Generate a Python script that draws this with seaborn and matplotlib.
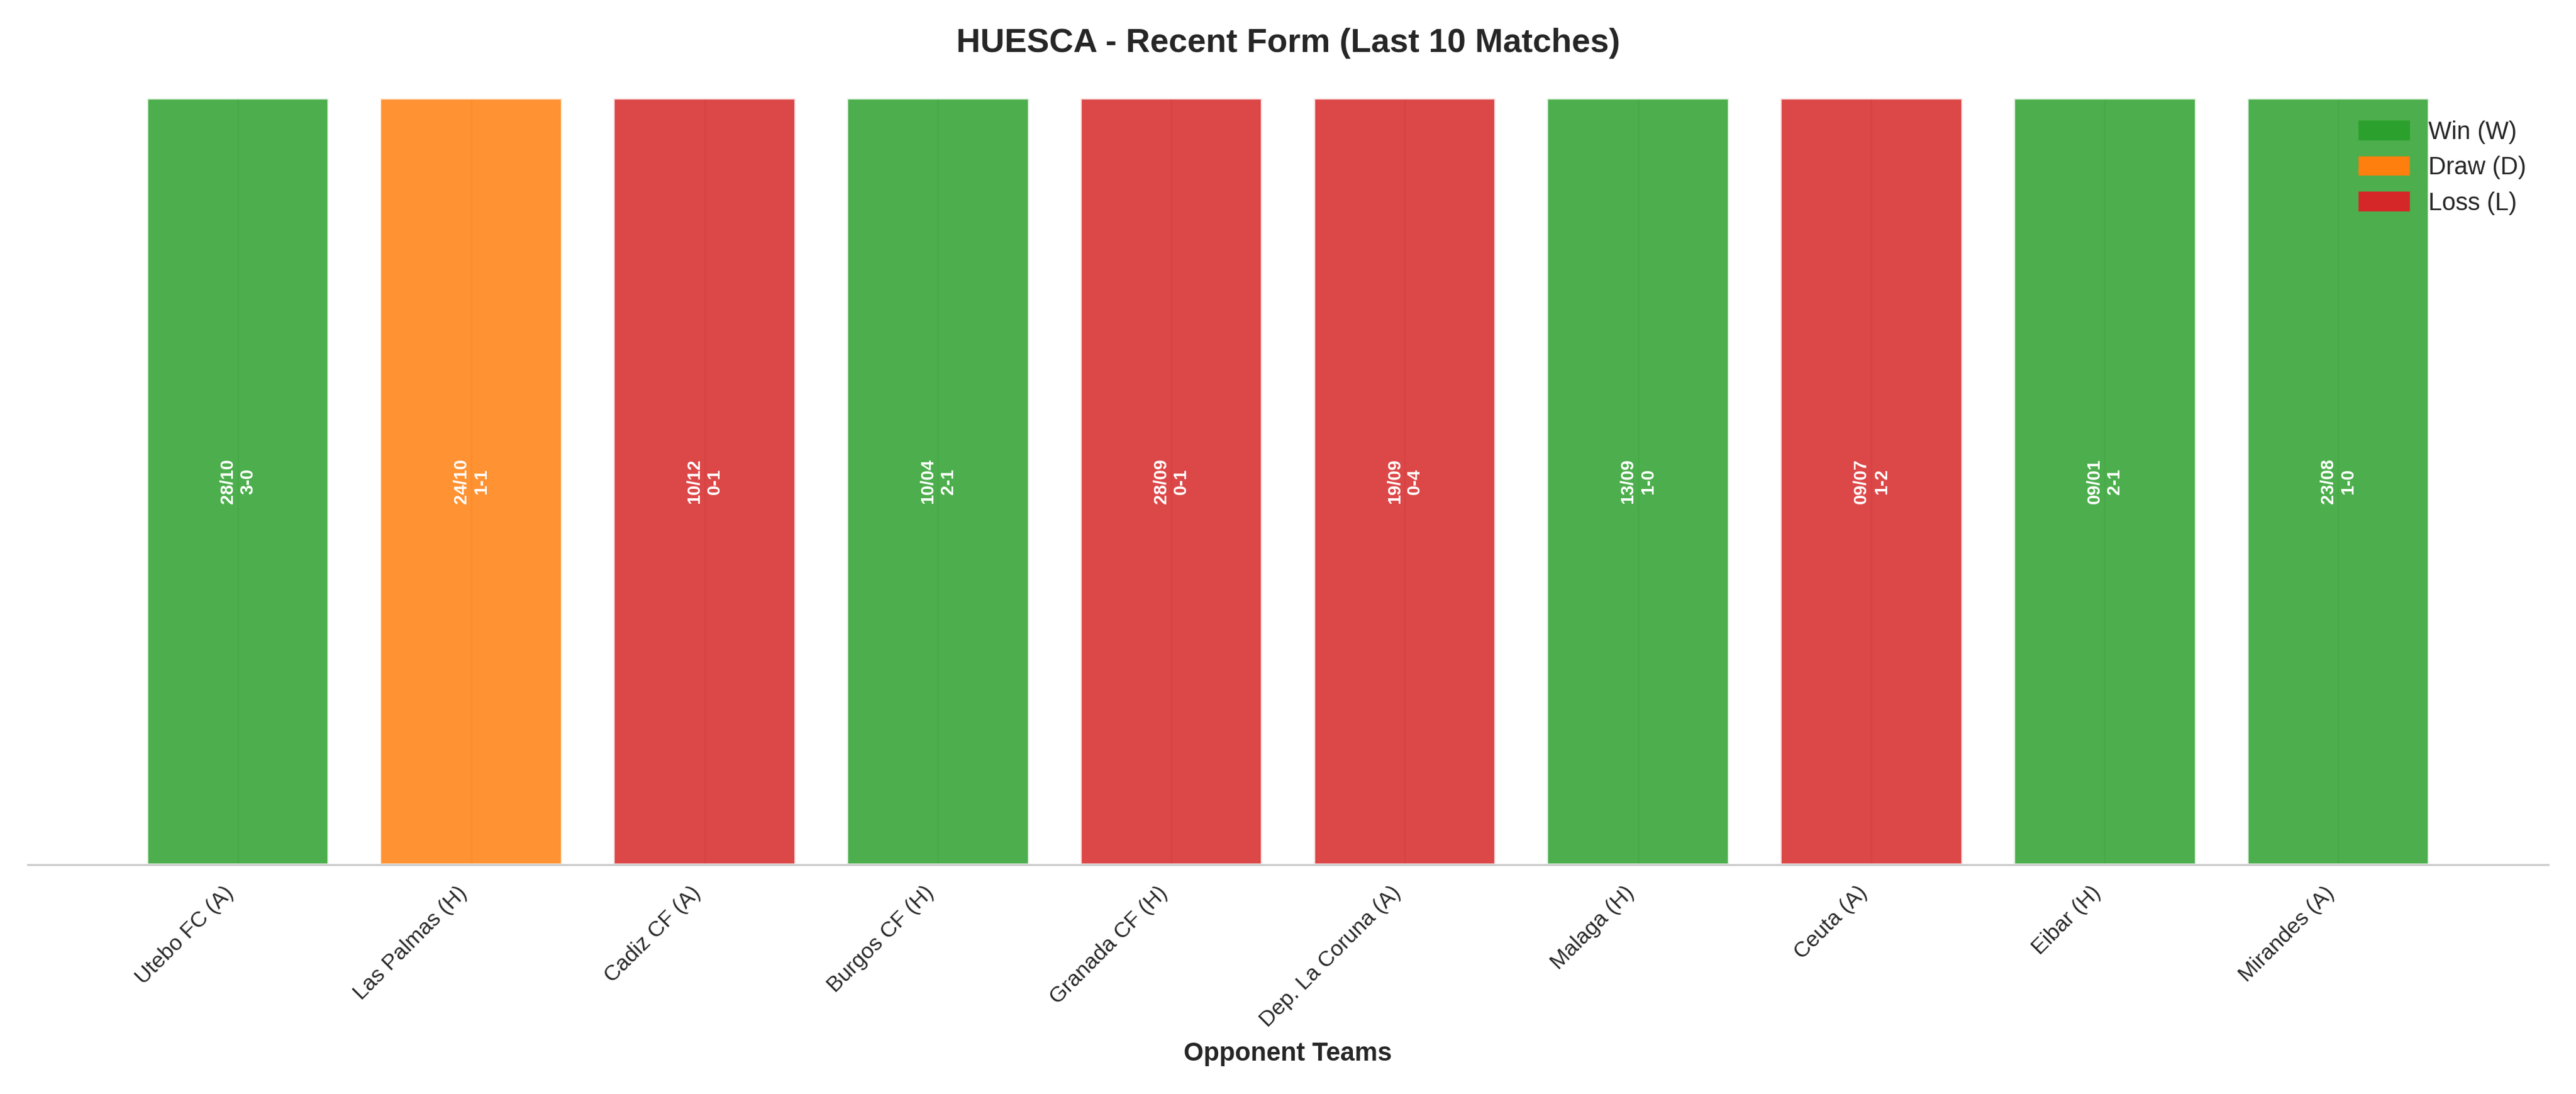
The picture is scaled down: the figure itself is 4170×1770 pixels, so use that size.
import matplotlib
matplotlib.use("Agg")
import matplotlib.pyplot as plt
import seaborn as sns
import pandas as pd
from matplotlib.patches import Patch

opponents = ["Utebo FC (A)", "Las Palmas (H)", "Cadiz CF (A)", "Burgos CF (H)", "Granada CF (H)",
             "Dep. La Coruna (A)", "Malaga (H)", "Ceuta (A)", "Eibar (H)", "Mirandes (A)"]
dates = ["28/10", "24/10", "10/12", "10/04", "28/09", "19/09", "13/09", "09/07", "09/01", "23/08"]
scores = ["3-0", "1-1", "0-1", "2-1", "0-1", "0-4", "1-0", "1-2", "2-1", "1-0"]
results = ["W", "D", "L", "W", "L", "L", "W", "L", "W", "W"]

colors = {"W": "#2ca02c", "D": "#ff7f0e", "L": "#d62728"}

sns.set_style("whitegrid")
plt.rcParams["font.family"] = ["Liberation Sans", "DejaVu Sans"]
df = pd.DataFrame({"opp": opponents, "val": [1] * len(opponents), "res": results})

fig, ax = plt.subplots(figsize=(13.9, 5.9), dpi=300)
sns.barplot(data=df, x="opp", y="val", hue="opp", palette=[colors[r] for r in results],
            saturation=1, alpha=0.85, edgecolor="white", linewidth=1, width=0.78,
            legend=False, ax=ax)
for i, (d, s) in enumerate(zip(dates, scores)):
    ax.text(i, 0.5, f"{d}\n{s}", rotation=90, ha="center", va="center",
            color="white", fontsize=7, fontweight="bold")

ax.set_xlim(-0.9, 9.9)
ax.set_ylim(0, 1.0)
ax.set_yticks([])
ax.set_ylabel("")
ax.grid(axis="y", visible=False)
ax.grid(axis="x", color="#dddddd", linewidth=0.6)
ax.set_xlabel("Opponent Teams", fontsize=10, fontweight="bold")
ax.set_title("HUESCA - Recent Form (Last 10 Matches)", fontsize=13, fontweight="bold", pad=18)
plt.setp(ax.get_xticklabels(), rotation=45, ha="right", fontsize=8.5)
for sp in ["top", "right", "left"]:
    ax.spines[sp].set_visible(False)
ax.spines["bottom"].set_color("#cccccc")

handles = [Patch(color=colors["W"], label="Win (W)"),
           Patch(color=colors["D"], label="Draw (D)"),
           Patch(color=colors["L"], label="Loss (L)")]
ax.legend(handles=handles, loc="upper right", frameon=False, fontsize=9.5)

plt.tight_layout()
plt.savefig("out.png", dpi=300)
